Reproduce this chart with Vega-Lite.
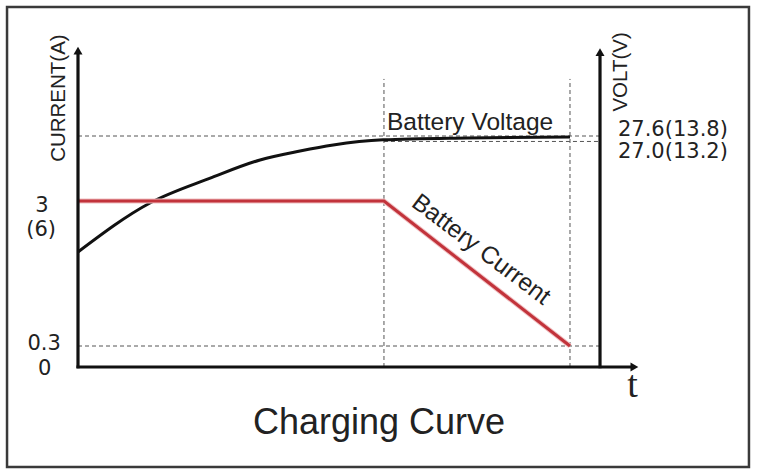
{
  "$schema": "https://vega.github.io/schema/vega-lite/v6.json",
  "width": 757,
  "height": 474,
  "padding": 0,
  "autosize": {"type": "fit", "contains": "padding"},
  "background": "white",
  "config": {"view": {"stroke": null}},
  "datasets": {
    "frame": [{"t": -11.54, "v": -31.35, "t2": 109.1, "v2": 112.85}],
    "axes": [
      {"name": "current axis", "t": 0, "v": -0.4, "t2": 0, "v2": 99},
      {"name": "volt axis", "t": 84.88, "v": -0.4, "t2": 84.88, "v2": 98.5},
      {"name": "time axis", "t": -0.25, "v": 0, "t2": 90.3, "v2": 0}
    ],
    "upArrows": [{"t": 0, "v": 99.2}, {"t": 84.88, "v": 98.7}],
    "rightArrows": [{"t": 90.47, "v": 0}],
    "guides": [
      {"name": "27.6", "t": 0, "v": 72.41, "t2": 84.88, "v2": 72.41},
      {"name": "27.0", "t": 49.75, "v": 70.7, "t2": 84.88, "v2": 70.7},
      {"name": "0.3", "t": 0, "v": 6.58, "t2": 84.88, "v2": 6.58},
      {"name": "cv start", "t": 49.75, "v": 0, "t2": 49.75, "v2": 90.3},
      {"name": "end", "t": 80, "v": 0, "t2": 80, "v2": 90.3}
    ],
    "voltage": [
      {"t": 0, "v": 36.05},
      {"t": 11.7, "v": 51.4},
      {"t": 21.5, "v": 59.2},
      {"t": 29.6, "v": 64.9},
      {"t": 36.1, "v": 67.7},
      {"t": 41.5, "v": 69.6},
      {"t": 49.6, "v": 71.2},
      {"t": 63.3, "v": 71.8},
      {"t": 80, "v": 72.1}
    ],
    "current": [
      {"t": 0, "v": 52.0},
      {"t": 49.75, "v": 52.0},
      {"t": 80, "v": 6.6}
    ],
    "leftLabels": [
      {"label": "3", "t": -5.85, "v": 48.6},
      {"label": "(6)", "t": -6.0, "v": 41.1},
      {"label": "0.3", "t": -5.5, "v": 5.3},
      {"label": "0", "t": -5.4, "v": -2.5}
    ],
    "voltLabels": [
      {"label": "27.6(13.8)", "t": 87.8, "v": 72.3},
      {"label": "27.0(13.2)", "t": 87.8, "v": 65.5}
    ],
    "axisTitles": [
      {"label": "CURRENT(A)", "t": -3.09, "v": 84.3},
      {"label": "VOLT(V)", "t": 88.3, "v": 92.5}
    ],
    "voltageName": [{"label": "Battery Voltage", "t": 50.24, "v": 74.3}],
    "currentName": [{"label": "Battery Current", "t": 65.5, "v": 36.7}],
    "timeName": [{"label": "t", "t": 90.16, "v": -9.4}],
    "title": [{"label": "Charging Curve", "t": 48.94, "v": -21.0}]
  },
  "encoding": {
    "x": {"field": "t", "type": "quantitative", "axis": null,
          "scale": {"domain": [-12.683, 110.407], "nice": false, "zero": false}},
    "y": {"field": "v", "type": "quantitative", "axis": null,
          "scale": {"domain": [-33.542, 115.047], "nice": false, "zero": false}}
  },
  "layer": [
    {
      "data": {"name": "frame"},
      "mark": {"type": "rect", "fill": null, "stroke": "#3a3a3a", "strokeWidth": 2.5},
      "encoding": {"x2": {"field": "t2"}, "y2": {"field": "v2"}}
    },
    {
      "data": {"name": "guides"},
      "mark": {"type": "rule", "color": "#555555", "strokeWidth": 1, "strokeDash": [4, 3]},
      "encoding": {"x2": {"field": "t2"}, "y2": {"field": "v2"}}
    },
    {
      "data": {"name": "voltage"},
      "mark": {"type": "line", "color": "#111111", "strokeWidth": 3, "interpolate": "monotone"},
      "encoding": {}
    },
    {
      "data": {"name": "current"},
      "mark": {"type": "line", "color": "#f0c0c2", "strokeWidth": 5},
      "encoding": {}
    },
    {
      "data": {"name": "current"},
      "mark": {"type": "line", "color": "#c2333b", "strokeWidth": 3},
      "encoding": {}
    },
    {
      "data": {"name": "axes"},
      "mark": {"type": "rule", "color": "#111111", "strokeWidth": 3.2},
      "encoding": {"x2": {"field": "t2"}, "y2": {"field": "v2"}}
    },
    {
      "data": {"name": "upArrows"},
      "mark": {"type": "point", "shape": "triangle-up", "filled": true, "color": "#111111", "size": 81, "opacity": 1},
      "encoding": {}
    },
    {
      "data": {"name": "rightArrows"},
      "mark": {"type": "point", "shape": "triangle-right", "filled": true, "color": "#111111", "size": 81, "opacity": 1},
      "encoding": {}
    },
    {
      "data": {"name": "leftLabels"},
      "mark": {"type": "text", "font": "DejaVu Sans", "fontSize": 21, "color": "#222222", "align": "center", "baseline": "alphabetic"},
      "encoding": {"text": {"field": "label"}}
    },
    {
      "data": {"name": "voltLabels"},
      "mark": {"type": "text", "font": "DejaVu Sans", "fontSize": 21, "color": "#222222", "align": "left", "baseline": "alphabetic"},
      "encoding": {"text": {"field": "label"}}
    },
    {
      "data": {"name": "axisTitles"},
      "mark": {"type": "text", "font": "Liberation Sans", "fontSize": 20.5, "color": "#222222", "align": "center", "baseline": "middle", "angle": 270},
      "encoding": {"text": {"field": "label"}}
    },
    {
      "data": {"name": "voltageName"},
      "mark": {"type": "text", "font": "Liberation Sans", "fontSize": 24.5, "color": "#222222", "align": "left", "baseline": "alphabetic"},
      "encoding": {"text": {"field": "label"}}
    },
    {
      "data": {"name": "currentName"},
      "mark": {"type": "text", "font": "Liberation Sans", "fontSize": 24.5, "color": "#222222", "align": "center", "baseline": "middle", "angle": 37},
      "encoding": {"text": {"field": "label"}}
    },
    {
      "data": {"name": "timeName"},
      "mark": {"type": "text", "font": "Liberation Serif", "fontSize": 38, "color": "#222222", "align": "center", "baseline": "alphabetic"},
      "encoding": {"text": {"field": "label"}}
    },
    {
      "data": {"name": "title"},
      "mark": {"type": "text", "font": "Liberation Sans", "fontSize": 36, "color": "#222222", "align": "center", "baseline": "alphabetic"},
      "encoding": {"text": {"field": "label"}}
    }
  ]
}
